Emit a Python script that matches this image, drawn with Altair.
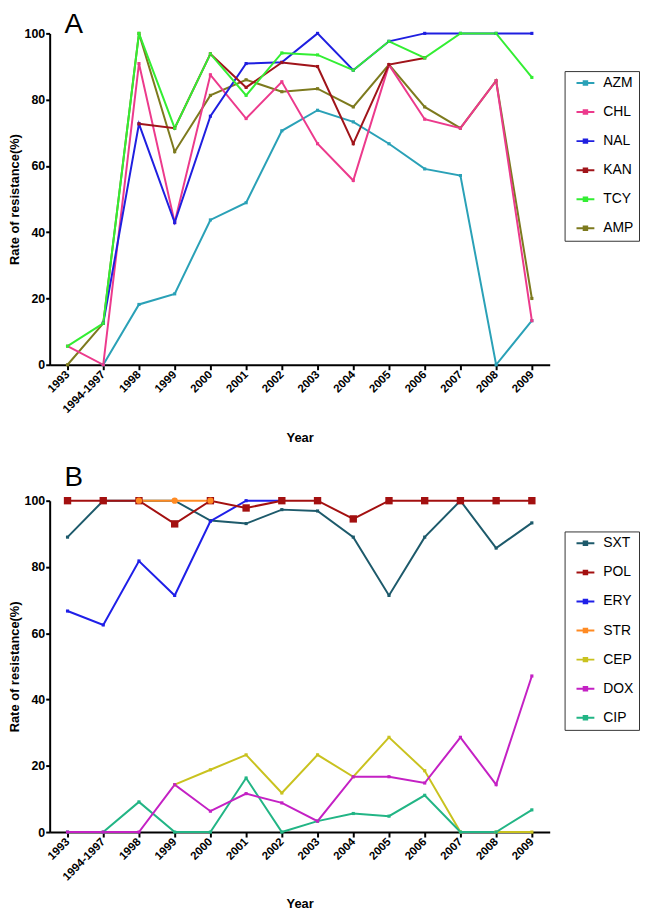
import altair as alt
import pandas as pd

years = ["1993", "1994-1997", "1998", "1999", "2000", "2001", "2002",
         "2003", "2004", "2005", "2006", "2007", "2008", "2009"]

# Panel A
series_a = ["AZM", "CHL", "NAL", "KAN", "TCY", "AMP"]
colors_a = ["#2aa1b7", "#ec3a8c", "#1f1fe0", "#a0141a", "#33ee33", "#7d7a1e"]
draw_a = ["AMP", "AZM", "CHL", "NAL", "KAN", "TCY"]
AZM = [None, 0, 18.2, 21.4, 43.7, 48.9, 70.6, 76.8, 73.3, 66.7, 59.1, 57.1, 0, 13.3]
CHL = [5.6, 0, 90.9, 42.9, 87.5, 74.3, 85.4, 66.7, 55.6, 90.5, 74.1, 71.4, 85.7, 13.3]
NAL = [None, 12.5, 72.7, 42.9, 75.0, 90.9, 91.3, 100, 88.9, 97.6, 100, 100, 100, 100]
KAN = [None, None, 72.7, 71.4, 93.8, 83.7, 91.2, 90.0, 66.7, 90.6, 92.6, None, None, None]
TCY = [5.6, 12.5, 100, 71.4, 93.8, 81.3, 94.1, 93.5, 88.9, 97.6, 92.6, 100, 100, 86.7]
AMP = [0, 12.5, 100, 64.3, 81.3, 86.0, 82.4, 83.3, 77.8, 90.6, 77.8, 71.4, 85.7, 20.0]

# Panel B
series_b = ["SXT", "POL", "ERY", "STR", "CEP", "DOX", "CIP"]
colors_b = ["#1d5a6b", "#a31010", "#1f1fe8", "#ff8a22", "#c9c21f", "#c421c4", "#22b585"]
draw_b = ["SXT", "ERY", "STR", "POL", "CEP", "CIP", "DOX"]
SXT = [89.0, 100, 100, 100, 94.0, 93.1, 97.3, 96.9, 89.0, 71.4, 89.0, 100, 85.7, 93.3]
POL = [100, 100, 100, 93.0, 100, 97.8, 100, 100, 94.5, 100, 100, 100, 100, 100]
ERY = [66.7, 62.5, 81.8, 71.4, 93.8, 100, 100, None, None, None, None, None, None, None]
STR = [None, None, 100, 100, 100, None, None, None, None, None, None, None, None, None]
CEP = [None, None, None, 14.3, 18.8, 23.3, 11.8, 23.3, 16.7, 28.6, 18.5, 0, 0, 0]
DOX = [0, 0, 0, 14.3, 6.3, 11.6, 8.8, 3.3, 16.7, 16.7, 14.8, 28.6, 14.3, 47.1]
CIP = [0, 0, 9.1, 0, 0, 16.3, 0, 3.3, 5.6, 4.8, 11.1, 0, 0, 6.7]

FONT = "Liberation Sans"


def long_df(names, arrays, draw):
    data = dict(zip(names, arrays))
    rows = []
    for name in draw:
        for i, (yr, v) in enumerate(zip(years, data[name])):
            if v is not None:
                rows.append({"year": yr, "series": name, "value": v, "idx": i,
                             "z": draw.index(name)})
    return pd.DataFrame(rows)


df_a = long_df(series_a, [AZM, CHL, NAL, KAN, TCY, AMP], draw_a)
df_b = long_df(series_b, [SXT, POL, ERY, STR, CEP, DOX, CIP], draw_b)

LEG_PATH = "M-1.8,0H1.8M-0.35,-0.35H0.35V0.35H-0.35Z"


def panel(df, names, cols, letter, letter_y, legend_y, title_pad,
          big_square=None, circle=None):
    x = alt.X("year:O", sort=years, title="Year",
              scale=alt.Scale(type="point", padding=0.5),
              axis=alt.Axis(labelAngle=-45, labelAlign="right", labelBaseline="middle",
                            labelFontSize=11.5, labelPadding=3, titlePadding=title_pad))
    y = alt.Y("value:Q", title="Rate of resistance(%)",
              scale=alt.Scale(domain=[0, 100], nice=False),
              axis=alt.Axis(values=[0, 20, 40, 60, 80, 100], labelFontSize=12.5,
                            titlePadding=3, labelPadding=1, tickSize=4))
    color = alt.Color("series:N", scale=alt.Scale(domain=names, range=cols),
                      legend=alt.Legend(orient="none", legendX=519, legendY=legend_y,
                                        title=None, strokeColor="#333333",
                                        padding=5, rowPadding=15.3,
                                        symbolType=LEG_PATH, symbolSize=100,
                                        symbolStrokeWidth=2, symbolOffset=9,
                                        labelOffset=11, labelFontSize=14,
                                        labelFont=FONT, labelColor="#000000"))
    base = alt.Chart(df)
    lines = base.mark_line(strokeWidth=2).encode(
        x=x, y=y, color=color, order=alt.Order("idx:Q"))
    pts = base.mark_point(filled=True, shape="square", size=10, opacity=1).encode(
        x=x, y=y, color=color, order=alt.Order("z:Q"))
    layers = [lines, pts]
    if big_square:
        layers.append(base.transform_filter(alt.datum.series == big_square)
                      .mark_point(filled=True, shape="square", size=55, opacity=1)
                      .encode(x=x, y=y, color=color))
    if circle:
        layers.append(base.transform_filter(alt.datum.series == circle)
                      .mark_point(filled=True, shape="circle", size=40, opacity=1)
                      .encode(x=x, y=y, color=color))
    lab = alt.Chart(pd.DataFrame({"panel": [letter]})).mark_text(
        font=FONT, fontSize=28, align="left", baseline="alphabetic", color="#000000"
    ).encode(text="panel:N", x=alt.value(15), y=alt.value(letter_y))
    layers.append(lab)
    return alt.layer(*layers).properties(width=504, height=334)


pa = panel(df_a, series_a, colors_a, "A", 0, 38, 17)
pb = panel(df_b, series_b, colors_b, "B", -15, 31, 15, big_square="POL", circle="STR")

chart = alt.vconcat(pa, pb, spacing=19).resolve_scale(color="independent").properties(
    padding=0
).configure_view(strokeWidth=0).configure_axis(
    domainColor="#000000", domainWidth=2, tickColor="#000000", tickWidth=2,
    tickSize=5, labelColor="#000000", labelFont=FONT, labelFontWeight="bold",
    titleColor="#000000", titleFont=FONT, titleFontWeight="bold", titleFontSize=13,
    grid=False
)

chart.save("out.html", embed_options={"renderer": "svg", "actions": False})
